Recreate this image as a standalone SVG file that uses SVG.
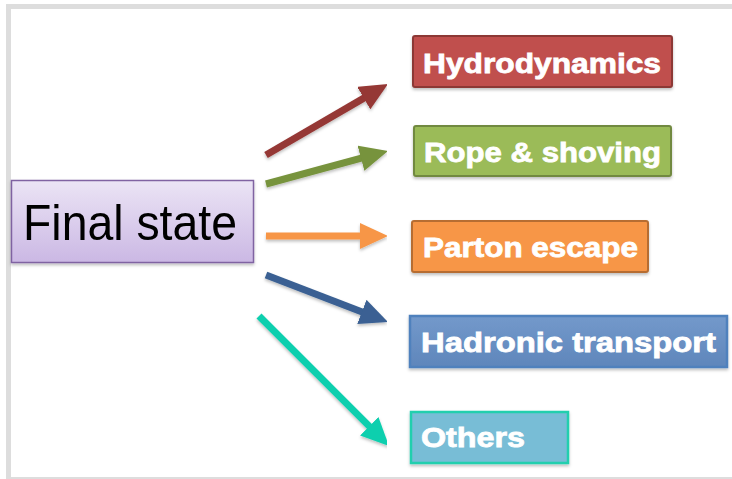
<svg xmlns="http://www.w3.org/2000/svg" width="732" height="479" viewBox="0 0 732 479">
<defs>
<style>
.lbl{font-family:"Liberation Sans",Arial,sans-serif;font-weight:bold;font-size:28px;fill:#ffffff;stroke:#ffffff;stroke-width:0.8}
.main{font-family:"Liberation Sans",Arial,sans-serif;font-size:50px;fill:#000000}
.ln{stroke-width:7;fill:none;stroke-linecap:butt}
</style>
<linearGradient id="gP" x1="0" y1="0" x2="0" y2="1"><stop offset="0" stop-color="#ebe4f5"/><stop offset="1" stop-color="#cbb8e4"/></linearGradient>
<linearGradient id="gB" x1="0" y1="0" x2="0" y2="1"><stop offset="0" stop-color="#7399cb"/><stop offset="1" stop-color="#5f86bb"/></linearGradient>
<filter id="sh" x="-10%" y="-20%" width="120%" height="150%"><feDropShadow dx="0" dy="2" stdDeviation="1.5" flood-color="#000" flood-opacity="0.25"/></filter>
<marker id="mR" markerUnits="userSpaceOnUse" viewBox="0 0 28 26" markerWidth="28" markerHeight="26" refX="8" refY="13" orient="auto"><path d="M0,0 L28,13 L0,26 z" fill="#953735"/></marker>
<marker id="mG" markerUnits="userSpaceOnUse" viewBox="0 0 28 26" markerWidth="28" markerHeight="26" refX="8" refY="13" orient="auto"><path d="M0,0 L28,13 L0,26 z" fill="#77933c"/></marker>
<marker id="mO" markerUnits="userSpaceOnUse" viewBox="0 0 28 26" markerWidth="28" markerHeight="26" refX="8" refY="13" orient="auto"><path d="M0,0 L28,13 L0,26 z" fill="#f79646"/></marker>
<marker id="mB" markerUnits="userSpaceOnUse" viewBox="0 0 28 26" markerWidth="28" markerHeight="26" refX="8" refY="13" orient="auto"><path d="M0,0 L28,13 L0,26 z" fill="#3a6193"/></marker>
<marker id="mT" markerUnits="userSpaceOnUse" viewBox="0 0 28 26" markerWidth="28" markerHeight="26" refX="8" refY="13" orient="auto"><path d="M0,0 L28,13 L0,26 z" fill="#0fcfae"/></marker>
</defs>
<rect x="0" y="0" width="732" height="479" fill="#ffffff"/>
<rect x="8.5" y="6.5" width="730" height="473" fill="none" stroke="#dddddd" stroke-width="5"/>
<g id="connectors" filter="url(#sh)">
<line class="ln" x1="266" y1="155" x2="370.7" y2="94.1" stroke="#953735" marker-end="url(#mR)"/>
<line class="ln" x1="266" y1="184" x2="368.7" y2="156.2" stroke="#77933c" marker-end="url(#mG)"/>
<line class="ln" x1="266" y1="236" x2="368" y2="236" stroke="#f79646" marker-end="url(#mO)"/>
<line class="ln" x1="266" y1="275" x2="369.3" y2="314.8" stroke="#3a6193" marker-end="url(#mB)"/>
<line class="ln" x1="259" y1="316" x2="374.9" y2="431.9" stroke="#0fcfae" marker-end="url(#mT)"/>
</g>
<g id="final-state">
<rect x="11.5" y="180.5" width="242" height="82" fill="url(#gP)" stroke="#8064a2" stroke-width="1.5" filter="url(#sh)"/>
<text class="main" x="23" y="240" textLength="214" lengthAdjust="spacingAndGlyphs">Final state</text>
</g>
<g id="hydrodynamics">
<rect x="413" y="36" width="259" height="51" rx="2" fill="#c0504d" stroke="#8c3836" stroke-width="2" filter="url(#sh)"/>
<text class="lbl" x="423" y="73" textLength="238" lengthAdjust="spacingAndGlyphs">Hydrodynamics</text>
</g>
<g id="rope-shoving">
<rect x="414" y="126" width="257" height="50" rx="2" fill="#9bbb59" stroke="#71893f" stroke-width="2" filter="url(#sh)"/>
<text class="lbl" x="424" y="162" textLength="237" lengthAdjust="spacingAndGlyphs">Rope &amp; shoving</text>
</g>
<g id="parton-escape">
<rect x="412" y="221" width="236" height="51" rx="2" fill="#f79646" stroke="#b66d31" stroke-width="2" filter="url(#sh)"/>
<text class="lbl" x="423" y="257" textLength="215" lengthAdjust="spacingAndGlyphs">Parton escape</text>
</g>
<g id="hadronic-transport">
<rect x="410" y="316" width="317" height="51" fill="url(#gB)" stroke="#4f81bd" stroke-width="2.5" filter="url(#sh)"/>
<text class="lbl" x="421" y="352" textLength="295" lengthAdjust="spacingAndGlyphs">Hadronic transport</text>
</g>
<g id="others">
<rect x="411" y="412" width="157" height="51" fill="#78bdd6" stroke="#20cfae" stroke-width="2.5" filter="url(#sh)"/>
<text class="lbl" x="421" y="447" textLength="104" lengthAdjust="spacingAndGlyphs">Others</text>
</g>
</svg>
